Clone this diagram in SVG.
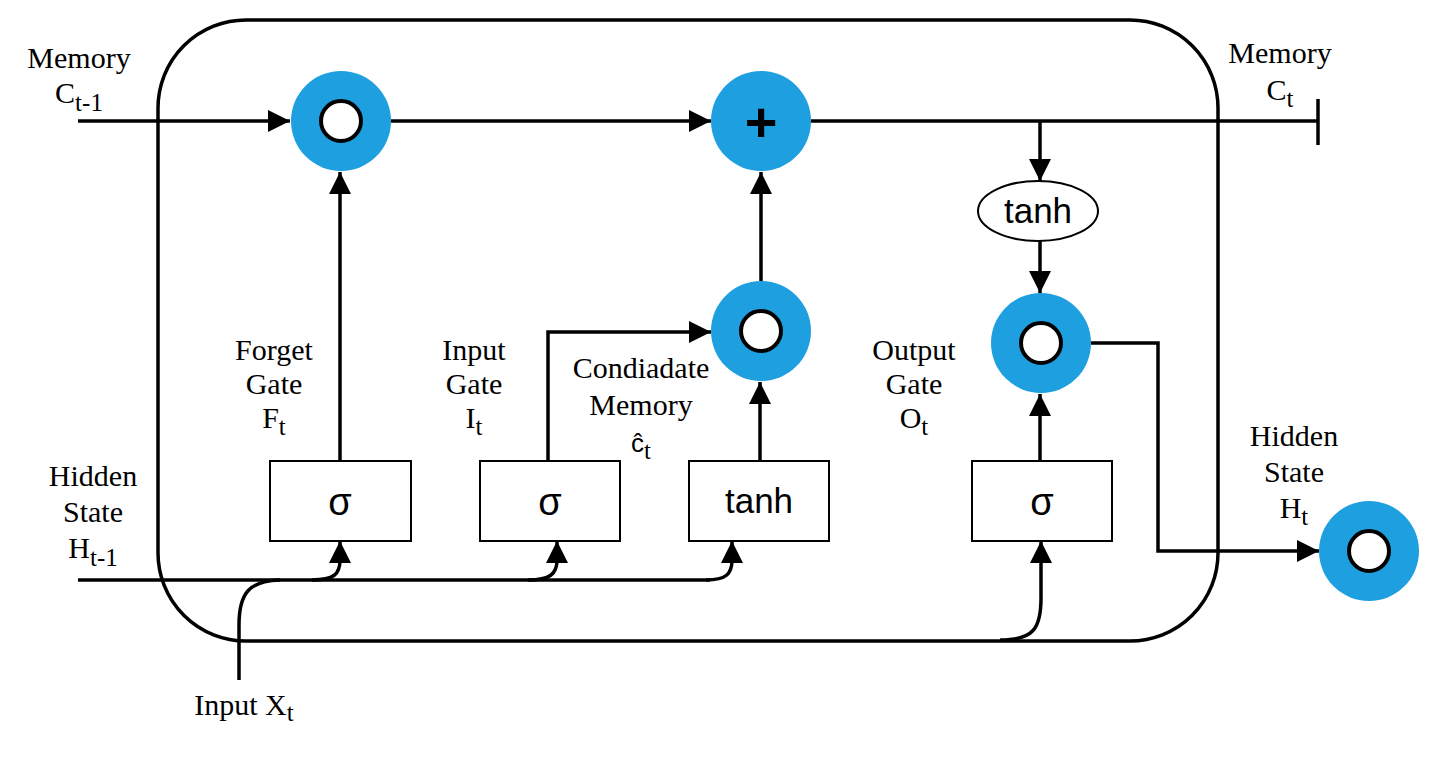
<svg xmlns="http://www.w3.org/2000/svg" width="1438" height="774" viewBox="0 0 1438 774">
<style>
.ln{fill:none;stroke:#000;stroke-width:3.5}
.arr{marker-end:url(#ah)}
.lbl{font-family:"Liberation Serif","Times New Roman",serif;font-size:30px;fill:#000;text-anchor:middle}
.sub{font-size:25px}
.fn{font-family:"Liberation Sans",Arial,sans-serif;font-size:35px;fill:#000;text-anchor:middle}
.sg{font-size:38px}
.box{fill:#fff;stroke:#000;stroke-width:2}
.blue{fill:#1e9fe0}
.hole{fill:#fff;stroke:#000;stroke-width:4}
</style>
<defs>
<marker id="ah" markerWidth="22" markerHeight="22" viewBox="0 0 22 22" refX="22" refY="11" orient="auto" markerUnits="userSpaceOnUse">
<path d="M0,0 L22,11 L0,22 Z" fill="#000"/>
</marker>
</defs>
<rect id="cell" x="158" y="20" width="1060" height="621" rx="88" ry="88" fill="none" stroke="#000" stroke-width="3.5"/>
<g id="connectors">
<path class="ln arr" d="M78 121 H290"/>
<path class="ln arr" d="M391 121 H711"/>
<path class="ln" d="M811 121 H1318"/>
<path class="ln" d="M1318 99 V145"/>
<path class="ln arr" d="M1040 121 V181"/>
<path class="ln arr" d="M1040 241 V293"/>
<path class="ln arr" d="M340 461 V172"/>
<path class="ln arr" d="M548 461 V332 H711"/>
<path class="ln arr" d="M761 281 V172"/>
<path class="ln arr" d="M760 461 V382"/>
<path class="ln arr" d="M1040 461 V394"/>
<path class="ln arr" d="M1091 343 H1158 V551 H1319"/>
<path class="ln" d="M78 580 H710"/>
<path class="ln arr" d="M312 580 C334 580 340 574 340 560 V541"/>
<path class="ln arr" d="M528 580 C550 580 557 574 557 560 V541"/>
<path class="ln arr" d="M706 580 C726 580 732 574 732 560 V541"/>
<path class="ln" d="M239 680 V625 C239 592 250 581 280 580"/>
<path class="ln arr" d="M1000 640 C1034 640 1041 628 1041 598 V541"/>
</g>
<g id="forget-mult"><circle class="blue" cx="341" cy="121" r="50"/><circle class="hole" cx="341" cy="121" r="20"/></g>
<g id="add"><circle class="blue" cx="761" cy="121" r="50"/><text x="761" y="141" font-family="Liberation Sans,Arial,sans-serif" font-weight="bold" font-size="56" text-anchor="middle">+</text></g>
<g id="input-mult"><circle class="blue" cx="761" cy="331" r="50"/><circle class="hole" cx="761" cy="331" r="20"/></g>
<g id="output-mult"><circle class="blue" cx="1041" cy="343" r="50"/><circle class="hole" cx="1041" cy="343" r="20"/></g>
<g id="hidden-out"><circle class="blue" cx="1369" cy="551" r="50"/><circle class="hole" cx="1369" cy="551" r="20"/></g>
<g id="tanh-ellipse"><ellipse cx="1038" cy="211" rx="60" ry="30" fill="#fff" stroke="#000" stroke-width="2"/><text class="fn" x="1038" y="223">tanh</text></g>
<g id="forget-sigma"><rect class="box" x="270" y="461" width="141" height="80"/><text class="fn sg" x="340" y="515">σ</text></g>
<g id="input-sigma"><rect class="box" x="480" y="461" width="140" height="80"/><text class="fn sg" x="550" y="515">σ</text></g>
<g id="cand-tanh"><rect class="box" x="689" y="461" width="140" height="80"/><text class="fn" x="759" y="513">tanh</text></g>
<g id="output-sigma"><rect class="box" x="972" y="461" width="140" height="80"/><text class="fn sg" x="1042" y="515">σ</text></g>
<g id="labels">
<text class="lbl" x="79" y="68">Memory</text>
<text class="lbl" x="79" y="103">C<tspan class="sub" dy="8">t-1</tspan></text>
<text class="lbl" x="1280" y="63">Memory</text>
<text class="lbl" x="1280" y="100">C<tspan class="sub" dy="7">t</tspan></text>
<text class="lbl" x="274" y="360">Forget</text>
<text class="lbl" x="274" y="394">Gate</text>
<text class="lbl" x="274" y="428">F<tspan class="sub" dy="7">t</tspan></text>
<text class="lbl" x="474" y="360">Input</text>
<text class="lbl" x="474" y="394">Gate</text>
<text class="lbl" x="474" y="428">I<tspan class="sub" dy="7">t</tspan></text>
<text class="lbl" x="641" y="378">Condiadate</text>
<text class="lbl" x="641" y="415">Memory</text>
<text class="lbl" x="641" y="452"><tspan font-family="Liberation Sans,Arial,sans-serif" font-size="26">ĉ</tspan><tspan class="sub" dy="7">t</tspan></text>
<text class="lbl" x="914" y="360">Output</text>
<text class="lbl" x="914" y="394">Gate</text>
<text class="lbl" x="914" y="428">O<tspan class="sub" dy="7">t</tspan></text>
<text class="lbl" x="1294" y="446">Hidden</text>
<text class="lbl" x="1294" y="482">State</text>
<text class="lbl" x="1294" y="518">H<tspan class="sub" dy="7">t</tspan></text>
<text class="lbl" x="93" y="486">Hidden</text>
<text class="lbl" x="93" y="522">State</text>
<text class="lbl" x="93" y="558">H<tspan class="sub" dy="8">t-1</tspan></text>
<text class="lbl" x="244" y="715">Input X<tspan class="sub" dy="6">t</tspan></text>
</g>
</svg>
